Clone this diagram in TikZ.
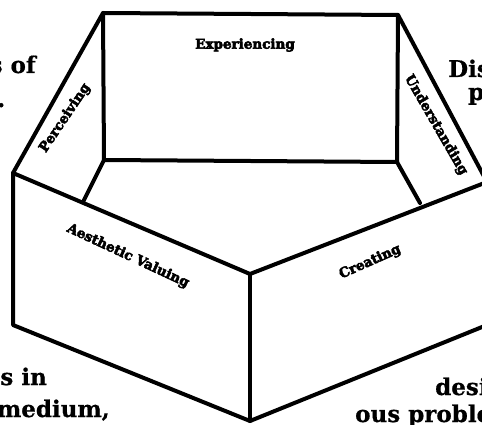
\documentclass[tikz,border=0pt]{standalone}
\usepackage{fontspec}
\setmainfont{DejaVu Serif}[BoldFeatures={FakeBold=0.6}]
\newfontfamily\heavy{DejaVu Serif}[BoldFeatures={FakeBold=4}]
\begin{document}
\begin{tikzpicture}[x=1pt,y=-1pt,
  edge/.style={line width=4pt,line cap=round,line join=round},
  bigtext/.style={inner sep=0pt,font=\fontsize{23}{27}\selectfont\bfseries},
  panellabel/.style={inner sep=0pt,font=\heavy\bfseries\fontsize{13.5}{15}\selectfont}]
\useasboundingbox (0,0) rectangle (482,425);
% top rim
\coordinate (A) at (13,173);
\coordinate (B) at (103,13);
\coordinate (C) at (398,15);
\coordinate (D) at (487,182);
\coordinate (E) at (250,274);
% bottom rim
\coordinate (Ab) at (13,325);
\coordinate (Bb) at (104,160);
\coordinate (Cb) at (397,162);
\coordinate (Eb) at (250,421);
\coordinate (Db) at (487,325);
% hidden-line ends
\coordinate (P1) at (83,202);
\coordinate (P2) at (420,203);
% back panels
\draw[edge] (P1) -- (Bb) -- (Cb) -- (P2);
\draw[edge] (Bb) -- (B);
\draw[edge] (Cb) -- (C);
\draw[edge] (A) -- (B) -- (C) -- (D);
% front panels
\draw[edge] (D) -- (E) -- (A) -- (Ab) -- (Eb) -- (Db);
\draw[edge] (E) -- (Eb);
% panel labels
\node[panellabel] (lexp) at (245,45) {Experiencing};
\node[panellabel,rotate=56] (lper) at (65,118) {Perceiving};
\node[panellabel,rotate=-60] (lund) at (436,125) {Understanding};
\node[panellabel,rotate=-25] (laes) at (128,256) {Aesthetic Valuing};
\node[panellabel,rotate=24] (lcre) at (370,262) {Creating};
% surrounding (cut-off) text
\node[bigtext,anchor=base east] (t1) at (36,73) {s of};
\node[bigtext,anchor=base west] (t2) at (-3,107) {.};
\node[bigtext,anchor=base west] (t3) at (448,77) {Dis};
\node[bigtext,anchor=base west] (t4) at (468,100) {p};
\node[bigtext,anchor=base east] (t5) at (47,385) {s in};
\node[bigtext,anchor=base east] (t6) at (110,417) {medium,};
\node[bigtext,anchor=base west] (t7) at (435,395) {desi};
\node[bigtext,anchor=base west] (t8) at (355,422) {ous proble};
\end{tikzpicture}
\end{document}
